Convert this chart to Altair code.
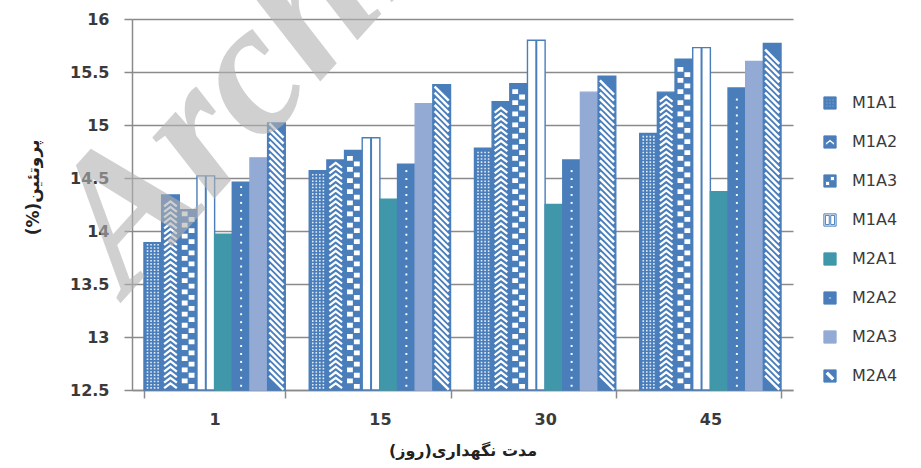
import altair as alt
import numpy as np
import pandas as pd

# ---- data -------------------------------------------------------------
days = ["1", "15", "30", "45"]
series = ["M1A1", "M1A2", "M1A3", "M1A4", "M2A1", "M2A2", "M2A3", "M2A4"]

m1a1 = [13.89, 14.57, 14.78, 14.92]
m1a2 = [14.34, 14.67, 15.22, 15.31]
m1a3 = [14.20, 14.76, 15.39, 15.62]
m1a4 = [14.52, 14.88, 15.80, 15.73]
m2a1 = [13.97, 14.30, 14.25, 14.37]
m2a2 = [14.46, 14.63, 14.67, 15.35]
m2a3 = [14.69, 15.20, 15.31, 15.60]
m2a4 = [15.02, 15.38, 15.46, 15.77]

y_ticks = [12.5, 13, 13.5, 14, 14.5, 15, 15.5, 16]

x_title = "مدت نگهداری(روز)"
y_title = "(%)پروتئین"
watermark = "Archive of SID"

protein = dict(zip(series, [m1a1, m1a2, m1a3, m1a4, m2a1, m2a2, m2a3, m2a4]))
bars = pd.DataFrame(
    [{"day": d, "series": s, "value": v} for s in series for d, v in zip(days, protein[s])]
)

Y_MIN, Y_MAX = y_ticks[0], y_ticks[-1]
BLUE = "#4A7EBB"
TEAL = "#3F97A9"
LIGHT = "#93AAD5"
FONT = "DejaVu Sans"
INK = "#3a3a3a"
GRID = "#8a8a8a"

fills = [BLUE, BLUE, BLUE, "white", TEAL, BLUE, LIGHT, BLUE]
strokes = [BLUE, BLUE, BLUE, BLUE, TEAL, BLUE, LIGHT, BLUE]


# ---- legend swatch shapes (blue squares with white cut-outs) ----------
def _area(pts):
    return sum(x0 * y1 - x1 * y0 for (x0, y0), (x1, y1) in zip(pts, pts[1:] + pts[:1]))


def _ring(pts, hole):
    a = _area(pts)
    if (hole and a > 0) or (not hole and a < 0):
        pts = pts[::-1]
    return "M" + "L".join(f"{x:g},{y:g}" for x, y in pts) + "Z"


def _rect(x0, y0, x1, y1):
    return [(x0, y0), (x1, y0), (x1, y1), (x0, y1)]


def swatch(holes):
    return _ring(_rect(-1, -1, 1, 1), False) + "".join(_ring(h, True) for h in holes)


swatches = [
    swatch([_rect(cx - 0.13, cy - 0.13, cx + 0.13, cy + 0.13)
            for cx in (-0.5, 0, 0.5) for cy in (-0.5, 0, 0.5)]),
    swatch([[(-0.75, 0.15), (0, -0.45), (0.75, 0.15), (0.75, 0.6), (0, 0.0), (-0.75, 0.6)]]),
    swatch([_rect(-0.75, 0.05, -0.05, 0.75), _rect(0.05, -0.75, 0.75, -0.05)]),
    swatch([_rect(-0.75, -0.75, -0.12, 0.75), _rect(0.12, -0.75, 0.75, 0.75)]),
    swatch([]),
    swatch([_rect(-0.18, -0.18, 0.18, 0.18)]),
    swatch([]),
    swatch([[(-0.8, -0.35), (-0.35, -0.8), (0.8, 0.35), (0.35, 0.8)]]),
]


# ---- texture glyphs stacked inside each patterned bar -----------------
def glyph_rows(name, step, margin):
    rows = []
    for d, v in zip(days, protein[name]):
        for lvl in np.arange(Y_MIN + margin, v - margin + 1e-9, step):
            rows.append({"day": d, "series": name, "level": float(lvl)})
    return pd.DataFrame(rows)


# ---- shared encodings -------------------------------------------------
x_enc = alt.X(
    "day:N",
    sort=days,
    scale=alt.Scale(domain=days, paddingInner=0.145, paddingOuter=0.0725),
    axis=alt.Axis(
        title=x_title,
        labelAngle=0,
        tickBand="extent",
        labelFont=FONT,
        labelFontSize=16,
        labelFontWeight="bold",
        labelColor=INK,
        labelPadding=13,
        tickSize=8,
        tickColor=GRID,
        tickWidth=1.5,
        domainColor=GRID,
        domainWidth=1.5,
        titleFont=FONT,
        titleFontSize=16,
        titleFontWeight="bold",
        titleColor="#222222",
        titlePadding=15,
    ),
)
xoff_enc = alt.XOffset(
    "series:N", sort=series, scale=alt.Scale(domain=series, paddingInner=0, paddingOuter=0)
)
y_scale = alt.Scale(domain=[Y_MIN, Y_MAX], zero=False, nice=False)
y_axis = alt.Axis(
    title=y_title,
    values=y_ticks,
    format="~g",
    labelFont=FONT,
    labelFontSize=16,
    labelFontWeight="bold",
    labelColor=INK,
    labelPadding=15,
    tickSize=8,
    tickColor=GRID,
    tickWidth=1.5,
    domainColor=GRID,
    domainWidth=1.5,
    grid=True,
    gridColor=GRID,
    gridWidth=1.5,
    titleFont=FONT,
    titleFontSize=17,
    titleFontWeight="bold",
    titleColor="#222222",
    titleX=-90,
    titleY=168,
)

legend = alt.Legend(
    title=None,
    orient="none",
    legendX=690,
    legendY=76,
    symbolSize=150,
    symbolOpacity=1,
    symbolStrokeColor=BLUE,
    symbolStrokeWidth=1,
    labelFont=FONT,
    labelFontSize=16,
    labelColor=INK,
    labelOffset=14,
    rowPadding=21,
)
fill_enc = alt.Fill("series:N", sort=series, scale=alt.Scale(domain=series, range=fills), legend=legend)
shape_enc = alt.Shape("series:N", sort=series, scale=alt.Scale(domain=series, range=swatches), legend=legend)

# ---- layers -----------------------------------------------------------
bar_layer = alt.Chart(bars).mark_bar(strokeWidth=1.4).encode(
    x=x_enc,
    xOffset=xoff_enc,
    y=alt.Y("value:Q", scale=y_scale, axis=y_axis),
    y2=alt.datum(Y_MIN),
    fill=fill_enc,
    stroke=alt.Stroke("series:N", sort=series, scale=alt.Scale(domain=series, range=strokes), legend=None),
)

# centre divider of the open M1A4 bars
divider_layer = alt.Chart(bars[bars.series == "M1A4"]).mark_rule(color=BLUE, strokeWidth=2).encode(
    x=x_enc, xOffset=xoff_enc, y=alt.Y("value:Q", scale=y_scale, axis=y_axis), y2=alt.datum(Y_MIN)
)

GLYPH = 312  # symbol area so that a [-1, 1] path spans one bar


def texture(name, step, margin, shape, **mark):
    return alt.Chart(glyph_rows(name, step, margin)).mark_point(shape=shape, size=GLYPH, opacity=1, **mark).encode(
        x=x_enc, xOffset=xoff_enc, y=alt.Y("level:Q", scale=y_scale, axis=y_axis)
    )


dots_grid = "".join(
    f"M{cx - 0.09:g},-0.09H{cx + 0.09:g}V0.09H{cx - 0.09:g}Z" for cx in (-0.6, -0.2, 0.2, 0.6)
)
chevron = "M-0.72,0.28L0,-0.28L0.72,0.28"
checker = "M-0.72,-0.58H-0.06V-0.04H-0.72Z M0.06,0.04H0.72V0.58H0.06Z"
dot = "M-0.11,-0.11H0.11V0.11H-0.11Z"
diagonal = "M-0.8,-0.8L0.8,0.8"

layers = [
    bar_layer,
    divider_layer,
    texture("M1A1", 0.03, 0.02, dots_grid, filled=True, color="white", strokeWidth=0, fillOpacity=0.85),
    texture("M1A2", 0.052, 0.04, chevron, filled=False, color="white", strokeWidth=2.2),
    texture("M1A3", 0.105, 0.06, checker, filled=True, color="white", strokeWidth=0),
    texture("M2A2", 0.075, 0.04, dot, filled=True, color="white", strokeWidth=0),
    texture("M2A4", 0.058, 0.07, diagonal, filled=False, color="white", strokeWidth=2.5),
    # invisible points carrying the legend swatch shapes
    alt.Chart(bars).mark_point(filled=True, opacity=0, size=150).encode(
        x=x_enc, xOffset=xoff_enc, y=alt.Y("value:Q", scale=y_scale, axis=y_axis),
        fill=fill_enc, shape=shape_enc,
    ),
    alt.Chart(pd.DataFrame({"label": [watermark]})).mark_text(
        font="Liberation Serif", fontSize=190, fontWeight="bold", fontStyle="italic",
        color="#b2b2b2", opacity=0.6, angle=312, align="left", baseline="alphabetic",
    ).encode(text="label:N", x=alt.value(-5), y=alt.value(277)),
]

chart = (
    alt.layer(*layers)
    .properties(
        width=661,
        height=371,
        autosize=alt.AutoSizeParams(type="none"),
        padding={"left": 132, "top": 19, "right": 128, "bottom": 78},
    )
    .configure_view(stroke=None)
)

chart.save("out.html", embed_options={"renderer": "svg", "actions": False})
